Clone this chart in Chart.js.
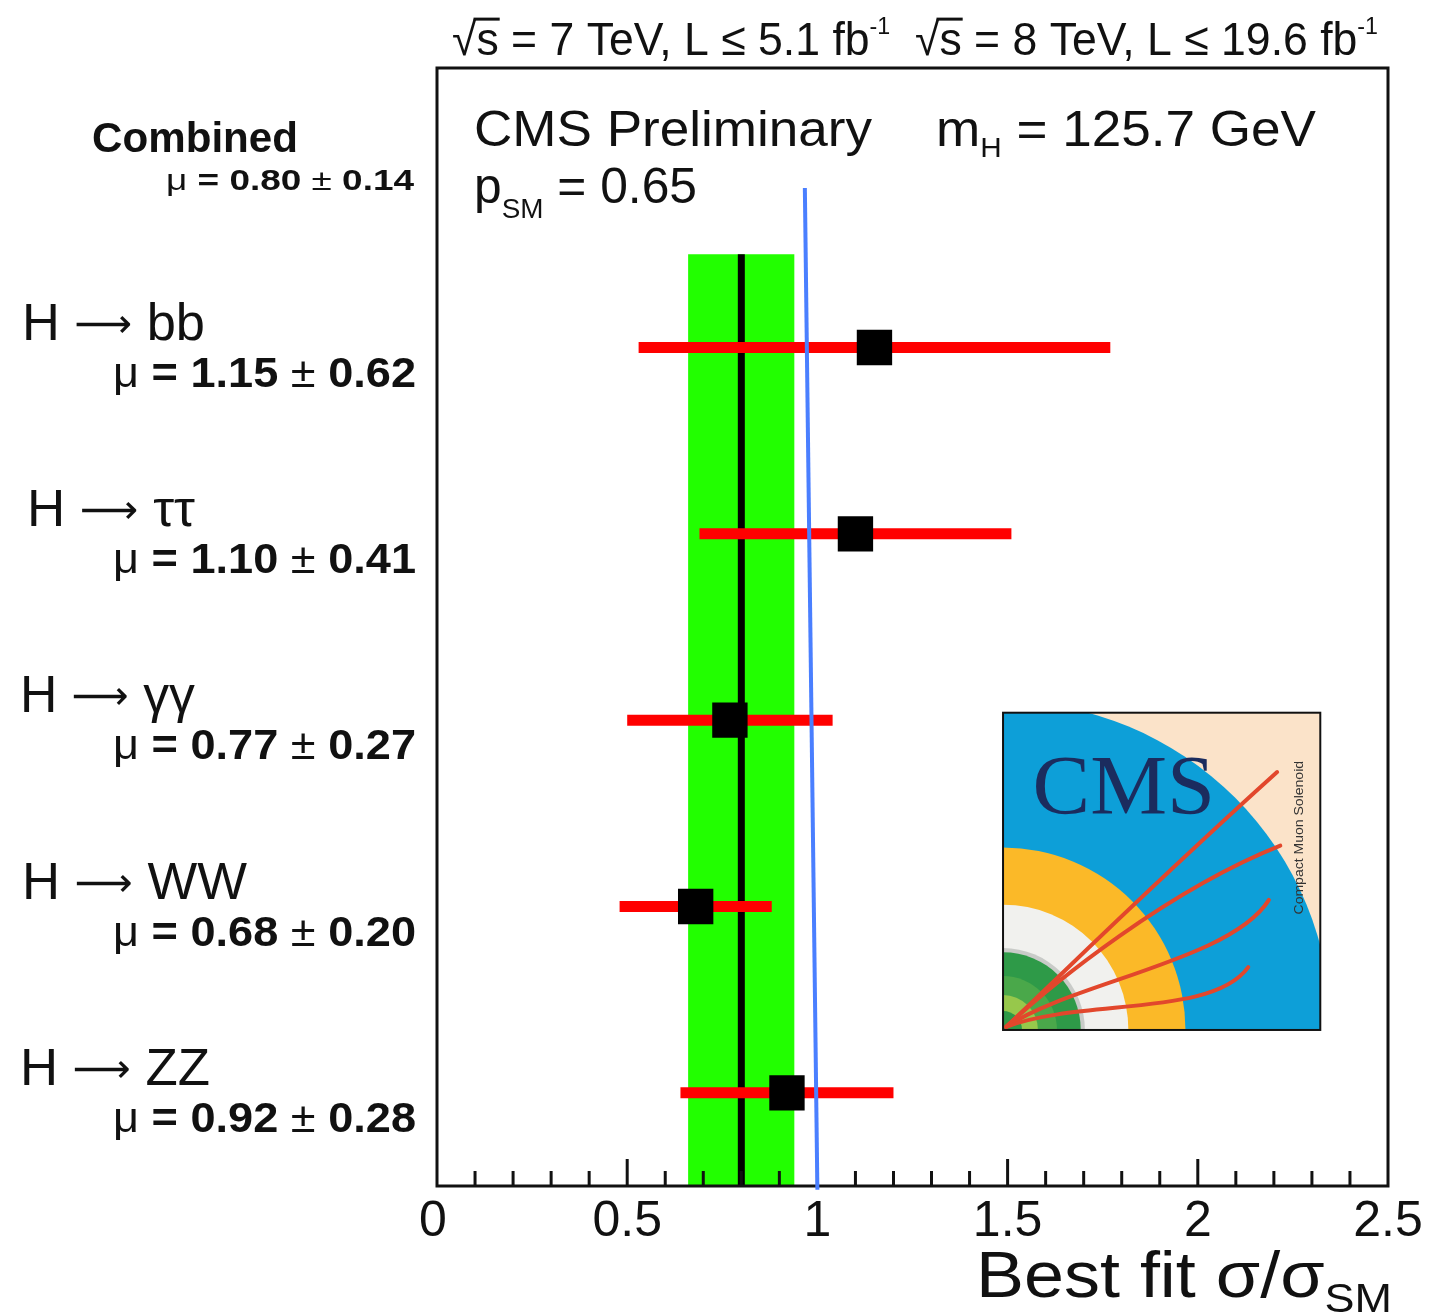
<!DOCTYPE html>
<html>
<head>
<meta charset="utf-8">
<script src="https://cdn.jsdelivr.net/npm/chart.js@4.4.1/dist/chart.umd.min.js"></script>
<style>
  html, body { margin: 0; padding: 0; background: #ffffff; }
  canvas { display: block; }
</style>
</head>
<body>
<canvas id="chart" width="1432" height="1315"></canvas>
<script>
// Best-fit signal strength per decay channel (top to bottom)
const channelProducts = ['bb', 'ττ', 'γγ', 'WW', 'ZZ'];
const muValues = [1.15, 1.10, 0.77, 0.68, 0.92];
const muErrors = [0.62, 0.41, 0.27, 0.20, 0.28];
const rowPositions = [4, 3, 2, 1, 0];

// Combined fit over all channels
const combinedMu = 0.80;
const combinedErr = 0.14;

// Standard-model reference line (x, y end points)
const smLineX = [0.967, 1.0];
const smLineY = [4.856, -0.52];

// Axis ticks
const xTickValues = [0, 0.5, 1, 1.5, 2, 2.5];
const xTickLabels = ['0', '0.5', '1', '1.5', '2', '2.5'];

const SANS = "'Liberation Sans', Arial, Helvetica, sans-serif";
const SERIF = "'Liberation Serif', 'Times New Roman', serif";
const ARROWS = "'DejaVu Sans', sans-serif";
const INK = '#111111';

// Draw a sequence of text runs (sub/superscripts) fitted to a given width
function drawRuns(ctx, runs, x, y, opts) {
  opts = opts || {};
  let total = 0;
  const widths = runs.map(r => {
    ctx.font = `${r.weight || 'normal'} ${r.size}px ${r.family || SANS}`;
    const w = ctx.measureText(r.t).width;
    total += w;
    return w;
  });
  const sx = opts.width ? opts.width / total : 1;
  let x0 = x;
  if (opts.align === 'right') x0 = x - total * sx;
  else if (opts.align === 'center') x0 = x - total * sx / 2;
  ctx.save();
  ctx.translate(x0, y);
  ctx.scale(sx, 1);
  ctx.fillStyle = opts.color || INK;
  ctx.strokeStyle = opts.color || INK;
  ctx.textAlign = 'left';
  ctx.textBaseline = 'alphabetic';
  let cx = 0;
  runs.forEach((r, i) => {
    ctx.font = `${r.weight || 'normal'} ${r.size}px ${r.family || SANS}`;
    ctx.fillText(r.t, cx, r.dy || 0);
    if (r.over) {
      ctx.lineWidth = 3;
      ctx.beginPath();
      const oy = (r.dy || 0) - r.size * 0.78;
      ctx.moveTo(cx - 3, oy);
      ctx.lineTo(cx + widths[i] + 1, oy);
      ctx.stroke();
    }
    cx += widths[i];
  });
  ctx.restore();
}

// CMS experiment emblem
function drawEmblem(ctx, L, T, S) {
  ctx.save();
  ctx.beginPath();
  ctx.rect(L, T, S, S);
  ctx.clip();
  ctx.fillStyle = '#fbe3c9';
  ctx.fillRect(L, T, S, S);
  const ox = L, oy = T + S;
  const ring = (r, color) => {
    ctx.beginPath();
    ctx.moveTo(ox, oy);
    ctx.arc(ox, oy, r * S, -Math.PI / 2, 0);
    ctx.closePath();
    ctx.fillStyle = color;
    ctx.fill();
  };
  ring(1.035, '#0d9fd8');
  ring(0.575, '#fbb928');
  ring(0.395, '#f1f1ee');
  ring(0.258, '#c9cbc8');
  ring(0.245, '#2e9a48');
  ring(0.17, '#4aa84a');
  ring(0.11, '#97c84b');
  ring(0.06, '#2e9a48');

  const P = (u, v) => [ox + u * S, oy - v * S];
  const tracks = [
    [[0.01, 0.01], [0.18, 0.17], [0.45, 0.44], [0.864, 0.813]],
    [[0.01, 0.01], [0.16, 0.15], [0.52, 0.44], [0.874, 0.581]],
    [[0.01, 0.01], [0.22, 0.15], [0.72, 0.22], [0.838, 0.41]],
    [[0.01, 0.01], [0.25, 0.10], [0.66, 0.04], [0.773, 0.198]]
  ];
  ctx.strokeStyle = '#e2472c';
  ctx.lineWidth = 4;
  ctx.lineCap = 'round';
  tracks.forEach(t => {
    const a = P(...t[0]), b = P(...t[1]), c = P(...t[2]), d = P(...t[3]);
    ctx.beginPath();
    ctx.moveTo(a[0], a[1]);
    ctx.bezierCurveTo(b[0], b[1], c[0], c[1], d[0], d[1]);
    ctx.stroke();
  });

  drawRuns(ctx, [{ t: 'CMS', size: 84, family: SERIF }], L + 0.093 * S, T + 0.318 * S,
    { width: 0.575 * S, color: '#1b2c5e' });

  ctx.save();
  ctx.translate(L + 0.945 * S, T + 0.394 * S);
  ctx.rotate(-Math.PI / 2);
  drawRuns(ctx, [{ t: 'Compact Muon Solenoid', size: 12 }], 0, 0,
    { width: 0.484 * S, align: 'center', color: '#333333' });
  ctx.restore();
  ctx.restore();

  ctx.strokeStyle = '#111';
  ctx.lineWidth = 2;
  ctx.strokeRect(L, T, S, S);
}

const TICK_AFTER_DATASET = 1; // ticks sit above the band and central line, below the rest

const decorPlugin = {
  id: 'decor',
  afterDatasetDraw(chart, args) {
    if (args.index !== TICK_AFTER_DATASET) return;
    const { ctx, chartArea: a, scales: { x } } = chart;
    ctx.save();
    // inward ticks on the bottom axis
    ctx.strokeStyle = INK;
    ctx.lineWidth = 3;
    for (let i = 1; i < 25; i++) {
      const px = x.getPixelForValue(i / 10);
      const major = i % 5 === 0;
      ctx.beginPath();
      ctx.moveTo(px, a.bottom);
      ctx.lineTo(px, a.bottom - (major ? 27 : 15));
      ctx.stroke();
    }
    // frame
    ctx.strokeRect(a.left, a.top, a.right - a.left, a.bottom - a.top);
    ctx.restore();
  },
  afterDatasetsDraw(chart) {
    const { ctx, scales: { x, y } } = chart;
    ctx.save();
    const L = x.getPixelForValue(1.488);
    const R = x.getPixelForValue(2.322);
    const T = y.getPixelForValue(2.04);
    drawEmblem(ctx, L, T, R - L);
    ctx.restore();
  },
  afterDraw(chart) {
    const { ctx, chartArea: a, scales: { x, y } } = chart;
    ctx.save();

    // tick labels
    xTickValues.forEach((v, i) => {
      drawRuns(ctx, [{ t: xTickLabels[i], size: 50 }], x.getPixelForValue(v) - (i === 0 ? 4 : 0), a.bottom + 50,
        { align: 'center' });
    });

    // axis title
    drawRuns(ctx, [
      { t: 'Best fit σ/σ', size: 64 },
      { t: 'SM', size: 40, dy: 15 }
    ], 1392, 1297, { align: 'right', width: 416 });

    // luminosity header
    drawRuns(ctx, [
      { t: '√', size: 46 }, { t: 's', size: 46, over: true },
      { t: ' = 7 TeV, L ≤ 5.1 fb', size: 46 }, { t: '-1', size: 24, dy: -21 },
      { t: '  √', size: 46 }, { t: 's', size: 46, over: true },
      { t: ' = 8 TeV, L ≤ 19.6 fb', size: 46 }, { t: '-1', size: 24, dy: -21 }
    ], a.left + 15, a.top - 13, { width: 926 });

    // in-frame annotations
    drawRuns(ctx, [{ t: 'CMS Preliminary', size: 50 }], a.left + 37, 146, { width: 398 });
    drawRuns(ctx, [
      { t: 'm', size: 50 }, { t: 'H', size: 28, dy: 11 }, { t: ' = 125.7 GeV', size: 50 }
    ], 936, 146, { width: 380 });
    drawRuns(ctx, [
      { t: 'p', size: 50 }, { t: 'SM', size: 28, dy: 15 }, { t: ' = 0.65', size: 50 }
    ], a.left + 37, 203, { width: 223 });

    // combined label
    drawRuns(ctx, [{ t: 'Combined', size: 42, weight: 'bold' }], 92, 152, { width: 206 });
    drawRuns(ctx, [
      { t: 'μ', size: 30 }, { t: ' = 0.80 ', size: 30, weight: 'bold' },
      { t: '±', size: 30 }, { t: ' 0.14', size: 30, weight: 'bold' }
    ], 414, 190, { align: 'right', width: 248 });

    // channel labels
    const labelWidths = [183, 168, 175, 225, 190];
    const labelLefts = [22, 27, 20, 22, 20];
    channelProducts.forEach((prod, i) => {
      const py = y.getPixelForValue(rowPositions[i]);
      drawRuns(ctx, [
        { t: 'H ', size: 52 },
        { t: '⟶', size: 40, family: ARROWS, dy: -3 },
        { t: ' ' + prod, size: 52 }
      ], labelLefts[i], py - 8, { width: labelWidths[i] });
      const m = muValues[i].toFixed(2), e = muErrors[i].toFixed(2);
      drawRuns(ctx, [
        { t: 'μ', size: 42 }, { t: ' = ' + m + ' ', size: 42, weight: 'bold' },
        { t: '±', size: 42 }, { t: ' ' + e, size: 42, weight: 'bold' }
      ], 416, py + 39, { align: 'right', width: 303 });
    });
    ctx.restore();
  }
};

const datasets = [];
// combined uncertainty band
datasets.push({
  data: [{ x: combinedMu - combinedErr, y: 4.5 }, { x: combinedMu + combinedErr, y: 4.5 }],
  borderWidth: 0,
  borderColor: 'rgba(0,0,0,0)',
  backgroundColor: '#22ff00',
  fill: { value: -0.5 },
  order: 5
});
// combined central value
datasets.push({
  data: [{ x: combinedMu, y: -0.5 }, { x: combinedMu, y: 4.5 }],
  borderColor: '#000000',
  borderWidth: 7,
  fill: false,
  order: 4
});
// per-channel error bars
muValues.forEach((mu, i) => {
  datasets.push({
    data: [{ x: mu - muErrors[i], y: rowPositions[i] }, { x: mu + muErrors[i], y: rowPositions[i] }],
    borderColor: '#ff0000',
    borderWidth: 11,
    borderCapStyle: 'butt',
    fill: false,
    order: 3
  });
});
// SM reference
datasets.push({
  data: smLineX.map((v, i) => ({ x: v, y: smLineY[i] })),
  borderColor: '#4a7fff',
  borderWidth: 4,
  fill: false,
  clip: false,
  order: 2
});
// best-fit markers
datasets.push({
  data: muValues.map((mu, i) => ({ x: mu, y: rowPositions[i] })),
  showLine: false,
  pointStyle: 'rect',
  pointRadius: 25,
  pointBackgroundColor: '#000000',
  pointBorderWidth: 0,
  order: 1
});

new Chart(document.getElementById('chart'), {
  type: 'line',
  data: { datasets },
  options: {
    responsive: false,
    animation: false,
    devicePixelRatio: 1,
    events: [],
    layout: { padding: { left: 437, right: 44, top: 68, bottom: 129 } },
    elements: { point: { radius: 0 }, line: { tension: 0 } },
    plugins: { legend: { display: false }, tooltip: { enabled: false } },
    scales: {
      x: { type: 'linear', min: 0, max: 2.5, display: false },
      y: { type: 'linear', min: -0.5, max: 5.5, display: false }
    }
  },
  plugins: [decorPlugin]
});
</script>
</body>
</html>
